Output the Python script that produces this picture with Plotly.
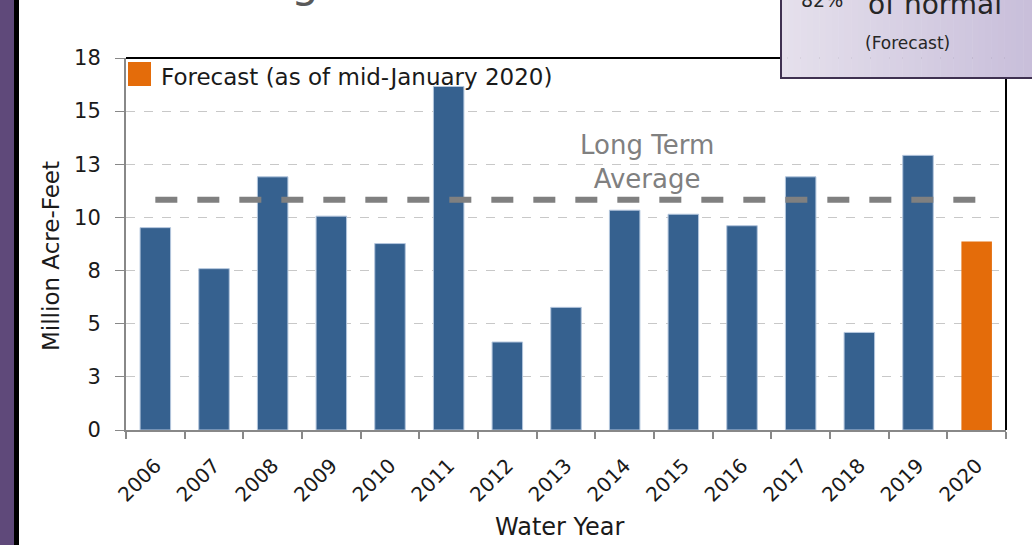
import plotly.graph_objects as go

# ---- data ----
years = ["2006", "2007", "2008", "2009", "2010", "2011", "2012", "2013",
         "2014", "2015", "2016", "2017", "2018", "2019"]
inflow = [9.52, 7.59, 11.91, 10.06, 8.77, 16.16, 4.14, 5.77,
          10.34, 10.15, 9.61, 11.91, 4.59, 12.92]
forecast_year = ["2020"]
forecast_value = [8.87]
long_term_avg = 10.83
y_tick_vals = [0, 2.5, 5, 7.5, 10, 12.5, 15, 17.5]
y_tick_text = ["0", "3", "5", "8", "10", "13", "15", "18"]
legend_label = "Forecast (as of mid-January 2020)"
pct_label = "82%"

all_years = years + forecast_year

W, H = 1032, 545
L, R, T, B = 126, 26, 58, 115
PW, PH = W - L - R, H - T - B


def px_x(p):
    return (p - L) / PW


def px_y(p):
    return (H - B - p) / PH


FONT = "DejaVu Sans, sans-serif"

fig = go.Figure()
fig.add_trace(go.Bar(x=years, y=inflow, width=0.52,
                     marker=dict(color="#36618f", line=dict(color="#b4c6dd", width=1)),
                     showlegend=False))
fig.add_trace(go.Bar(x=forecast_year, y=forecast_value, width=0.52,
                     marker=dict(color="#e46c0a", line=dict(width=0)),
                     showlegend=False))
fig.add_trace(go.Scatter(x=all_years, y=[long_term_avg] * len(all_years), mode="lines",
                         line=dict(color="#808080", width=6, dash="22px,20px"),
                         showlegend=False, hoverinfo="skip"))

shapes = []
# left purple sidebar
shapes.append(dict(type="rect", xref="paper", yref="paper", x0=px_x(-2), x1=px_x(14),
                   y0=px_y(H + 5), y1=px_y(-5), fillcolor="#5f497a", line=dict(width=0)))
shapes.append(dict(type="rect", xref="paper", yref="paper", x0=px_x(14), x1=px_x(19),
                   y0=px_y(H + 5), y1=px_y(-5), fillcolor="#000000", line=dict(width=0)))
# plot top and right borders
shapes.append(dict(type="line", xref="paper", yref="paper", x0=0, x1=1, y0=1, y1=1,
                   line=dict(color="#000000", width=2)))
shapes.append(dict(type="line", xref="paper", yref="paper", x0=1, x1=1, y0=0, y1=1,
                   line=dict(color="#000000", width=2)))
# top-right info box with gradient
bx0, bx1, by0, by1 = 781, W + 4, -6, 78
n = 40
c0 = (229, 224, 236)
c1 = (200, 190, 218)
for i in range(n):
    t = i / (n - 1)
    c = tuple(round(c0[k] + (c1[k] - c0[k]) * t) for k in range(3))
    xa = bx0 + (bx1 - bx0) * i / n
    xb = bx0 + (bx1 - bx0) * (i + 1) / n + 0.5
    shapes.append(dict(type="rect", xref="paper", yref="paper", x0=px_x(xa), x1=px_x(xb),
                       y0=px_y(by1), y1=px_y(by0), fillcolor="rgb(%d,%d,%d)" % c,
                       line=dict(width=0)))
shapes.append(dict(type="rect", xref="paper", yref="paper", x0=px_x(bx0), x1=px_x(bx1),
                   y0=px_y(by1), y1=px_y(by0), line=dict(color="#3f3151", width=2)))
# legend swatch
shapes.append(dict(type="rect", xref="paper", yref="paper", x0=px_x(128), x1=px_x(151),
                   y0=px_y(86), y1=px_y(62), fillcolor="#e46c0a", line=dict(width=0)))

annotations = [
    dict(text=legend_label, xref="paper", yref="paper", x=px_x(159), y=px_y(77),
         xanchor="left", yanchor="middle", showarrow=False,
         font=dict(family=FONT, size=23, color="#1a1a1a")),
    dict(text="Long Term<br>Average", xref="paper", yref="paper", x=px_x(647), y=px_y(162),
         xanchor="center", yanchor="middle", showarrow=False,
         font=dict(family=FONT, size=26, color="#808080")),
    dict(text="Million Acre-Feet", xref="paper", yref="paper", x=px_x(51), y=px_y(256),
         xanchor="center", yanchor="middle", textangle=-90, showarrow=False,
         font=dict(family=FONT, size=23, color="#1a1a1a")),
    dict(text="Water Year", xref="paper", yref="paper", x=px_x(560), y=px_y(527),
         xanchor="center", yanchor="middle", showarrow=False,
         font=dict(family=FONT, size=24, color="#1a1a1a")),
    dict(text="(Forecast)", xref="paper", yref="paper", x=px_x(907), y=px_y(43),
         xanchor="center", yanchor="middle", showarrow=False,
         font=dict(family=FONT, size=17, color="#262626")),
    dict(text="of normal", xref="paper", yref="paper", x=px_x(935), y=px_y(5),
         xanchor="center", yanchor="middle", showarrow=False,
         font=dict(family=FONT, size=28, color="#262626")),
    dict(text=pct_label, xref="paper", yref="paper", x=px_x(822), y=px_y(0),
         xanchor="center", yanchor="middle", showarrow=False,
         font=dict(family=FONT, size=19, color="#262626")),
    dict(text="g", xref="paper", yref="paper", x=px_x(305), y=px_y(-18),
         xanchor="center", yanchor="middle", showarrow=False,
         font=dict(family=FONT, size=44, color="#595959")),
]

fig.update_layout(
    width=W, height=H,
    margin=dict(l=L, r=R, t=T, b=B, pad=0),
    paper_bgcolor="white", plot_bgcolor="white",
    barmode="overlay",
    shapes=shapes, annotations=annotations,
    font=dict(family=FONT, color="#1a1a1a"),
    xaxis=dict(type="category", categoryorder="array", categoryarray=all_years,
               range=[-0.5, len(all_years) - 0.5],
               showline=True, linecolor="#888888", linewidth=2,
               ticks="outside", ticklen=7, tickwidth=2, tickcolor="#888888",
               tickson="boundaries", tickangle=-45, ticklabelstandoff=14,
               tickfont=dict(family=FONT, size=20, color="#1a1a1a"),
               showgrid=False, zeroline=False),
    yaxis=dict(range=[0, 17.5], tickvals=y_tick_vals, ticktext=y_tick_text,
               showline=True, linecolor="#888888", linewidth=2,
               ticks="outside", ticklen=9, tickwidth=1, tickcolor="#888888",
               ticklabelstandoff=10,
               tickfont=dict(family=FONT, size=21, color="#1a1a1a"),
               showgrid=True, gridcolor="#c8c8c8", gridwidth=1, griddash="dash",
               zeroline=False),
)

fig.write_html("out.html", config={"displayModeBar": False},
               post_script="document.body.style.margin='0px';document.body.style.overflow='hidden';")
